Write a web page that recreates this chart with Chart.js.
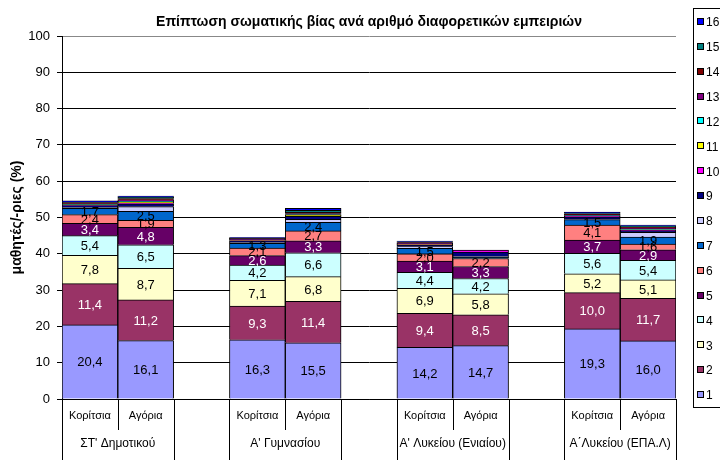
<!DOCTYPE html>
<html>
<head>
<meta charset="utf-8">
<script src="https://cdn.jsdelivr.net/npm/chart.js@4"></script>
<style>
  body { margin: 0; background: #fff; }
  canvas { display: block; }
</style>
</head>
<body>
<canvas id="chart" width="720" height="465"></canvas>
<script>
// slots: girls, boys, empty gap, ... (4 school groups)
const categories = ["Κορίτσια", "Αγόρια", "", "Κορίτσια", "Αγόρια", "", "Κορίτσια", "Αγόρια", "", "Κορίτσια", "Αγόρια"];
const groups = ["ΣΤ' Δημοτικού", "Α' Γυμνασίου", "Α' Λυκείου (Ενιαίου)", "Α΄Λυκείου (ΕΠΑ.Λ)"];
const seriesNames = ["1", "2", "3", "4", "5", "6", "7", "8", "9", "10", "11", "12", "13", "14", "15", "16"];
const yTicks = [0, 10, 20, 30, 40, 50, 60, 70, 80, 90, 100];

// values per bar: ΣΤ' K, ΣΤ' A, Γυμ K, Γυμ A, Λυκ K, Λυκ A, ΕΠΑΛ K, ΕΠΑΛ A
const s1 = [20.4, 16.1, 16.3, 15.5, 14.2, 14.7, 19.3, 16.0];
const s2 = [11.4, 11.2, 9.3, 11.4, 9.4, 8.5, 10.0, 11.7];
const s3 = [7.8, 8.7, 7.1, 6.8, 6.9, 5.8, 5.2, 5.1];
const s4 = [5.4, 6.5, 4.2, 6.6, 4.4, 4.2, 5.6, 5.4];
const s5 = [3.4, 4.8, 2.6, 3.3, 3.1, 3.3, 3.7, 2.9];
const s6 = [2.4, 1.9, 2.1, 2.7, 2.0, 2.2, 4.1, 1.6];
const s7 = [1.7, 2.5, 1.3, 2.4, 1.5, 0.3, 1.5, 1.9];
const s8 = [0.3, 1.3, 0.3, 0.8, 0.5, 0.3, 0.2, 1.3];
const s9 = [0.5, 0.8, 0.3, 0.8, 0.4, 1.2, 0.6, 0.5];
const s10 = [0.1, 0.2, 0.1, 0.1, 0.1, 0.5, 0.1, 0.1];
const s11 = [0.1, 0.2, 0.1, 0.2, 0.1, 0, 0.1, 0.1];
const s12 = [0.1, 0.3, 0.1, 0.2, 0.1, 0, 0.1, 0.2];
const s13 = [0.2, 0.4, 0.2, 0.3, 0.2, 0, 0.2, 0.3];
const s14 = [0.3, 0.3, 0.2, 0.3, 0.2, 0, 0.2, 0.3];
const s15 = [0.2, 0.5, 0.1, 0.6, 0.2, 0, 0.2, 0.3];
const s16 = [0.3, 0.2, 0.2, 0.5, 0.2, 0, 0.4, 0.2];

const allSeries = [s1, s2, s3, s4, s5, s6, s7, s8, s9, s10, s11, s12, s13, s14, s15, s16];
const colors = ["#9999FF", "#993366", "#FFFFCC", "#CCFFFF", "#660066", "#FF8080", "#0066CC", "#CCCCFF",
  "#000080", "#FF00FF", "#FFFF00", "#00FFFF", "#800080", "#800000", "#008080", "#0000FF"];

// put the 8 values into the 11 slots (gaps stay empty)
function toSlots(vals) {
  const out = [];
  let k = 0;
  categories.forEach(function (c) {
    out.push(c === "" ? null : vals[k++]);
  });
  return out;
}

const FONT = "Arial, 'Liberation Sans', sans-serif";

const extras = {
  id: "extras",
  afterDatasetsDraw(chart) {
    const ctx = chart.ctx;
    ctx.save();
    ctx.font = "13px " + FONT;
    ctx.textAlign = "center";
    ctx.textBaseline = "middle";
    for (let d = 0; d < 7; d++) {
      const meta = chart.getDatasetMeta(d);
      meta.data.forEach(function (el, i) {
        const v = chart.data.datasets[d].data[i];
        if (v == null || v < 1) return;
        ctx.fillStyle = (d === 1 || d === 4) ? "#fff" : "#000";
        ctx.fillText(v.toFixed(1).replace(".", ","), el.x, (el.y + el.base) / 2 + 1);
      });
    }
    ctx.restore();
  },
  afterDraw(chart) {
    const ctx = chart.ctx;
    const area = chart.chartArea;
    const x = chart.scales.x;
    const slotW = x.getPixelForValue(1) - x.getPixelForValue(0);
    const edge = function (i) { return x.getPixelForValue(i) - slotW / 2; };
    ctx.save();
    ctx.strokeStyle = "#000";
    ctx.lineWidth = 1;
    groups.forEach(function (g, gi) {
      const b = gi * 3;
      [b, b + 2].forEach(function (i) {
        const px = Math.round(edge(i)) + 0.5;
        ctx.beginPath(); ctx.moveTo(px, area.bottom); ctx.lineTo(px, 460); ctx.stroke();
      });
      const mid = Math.round(edge(b + 1)) + 0.5;
      ctx.beginPath(); ctx.moveTo(mid, area.bottom); ctx.lineTo(mid, 430); ctx.stroke();
      ctx.fillStyle = "#000";
      ctx.font = "12px " + FONT;
      ctx.textAlign = "center";
      ctx.textBaseline = "middle";
      ctx.fillText(g, edge(b + 1), 444);
    });

    // title
    ctx.font = "bold 14px " + FONT;
    ctx.fillText("Επίπτωση σωματικής βίας ανά αριθμό διαφορετικών εμπειριών", (area.left + area.right) / 2, 22);

    // legend
    ctx.strokeStyle = "#000";
    ctx.strokeRect(693.5, 8.5, 40, 399);
    ctx.font = "12px " + FONT;
    ctx.textAlign = "left";
    for (let n = 16; n >= 1; n--) {
      const cy = 22 + (16 - n) * 24.87;
      ctx.fillStyle = colors[n - 1];
      ctx.fillRect(697, Math.round(cy) - 4, 7, 7);
      ctx.strokeRect(697.5, Math.round(cy) - 3.5, 6, 6);
      ctx.fillStyle = "#000";
      ctx.fillText(seriesNames[n - 1], 706, cy + 1);
    }
    ctx.restore();
  }
};

new Chart(document.getElementById("chart"), {
  type: "bar",
  data: {
    labels: categories,
    datasets: allSeries.map(function (vals, i) {
      return {
        label: seriesNames[i],
        data: toSlots(vals),
        backgroundColor: colors[i],
        borderColor: "#000",
        borderWidth: 1,
        categoryPercentage: 1,
        barPercentage: 1
      };
    })
  },
  options: {
    responsive: false,
    animation: false,
    layout: { padding: { top: 36, right: 44, left: 0, bottom: 0 } },
    plugins: {
      legend: { display: false },
      title: { display: false },
      tooltip: { enabled: false }
    },
    scales: {
      x: {
        stacked: true,
        grid: { display: false, drawTicks: false },
        border: { color: "#000" },
        ticks: { color: "#000", font: { size: 11, family: FONT }, padding: 10, maxRotation: 0, autoSkip: false },
        afterFit: function (s) { s.height = 66; }
      },
      y: {
        stacked: true,
        min: 0,
        max: 100,
        afterBuildTicks: function (s) { s.ticks = yTicks.map(function (v) { return { value: v }; }); },
        grid: {
          color: function (c) { return c.tick && c.tick.value === 100 ? "#888" : "#000"; },
          tickColor: "#000",
          tickLength: 5
        },
        border: { color: "#000" },
        ticks: { color: "#000", font: { size: 13, family: FONT }, padding: 7 },
        title: {
          display: true,
          text: "μαθητές/-ριες (%)",
          color: "#000",
          font: { size: 14, weight: "bold", family: FONT },
          padding: { top: 9, bottom: 0 }
        },
        afterFit: function (s) { s.width = 62; }
      }
    }
  },
  plugins: [extras]
});
</script>
</body>
</html>
